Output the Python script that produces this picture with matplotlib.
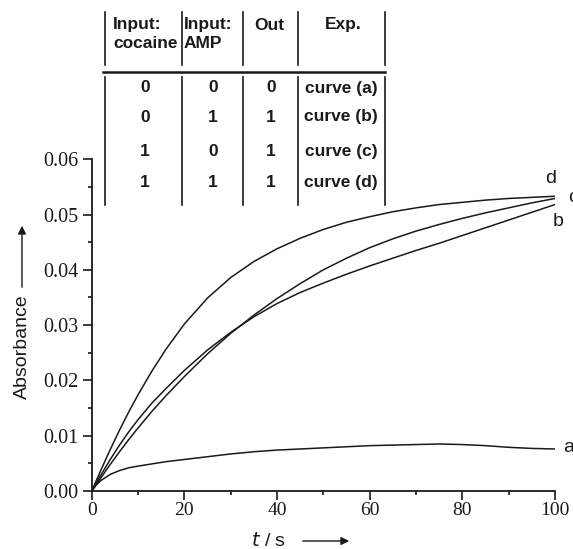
import matplotlib
matplotlib.use("Agg")
import matplotlib.pyplot as plt
from matplotlib.ticker import MultipleLocator, FormatStrFormatter

# ---- data ----
t = [0, 1, 2, 4, 6, 8, 10, 13, 16, 20, 25, 30, 35, 40, 45, 50, 55, 60, 65, 70, 75, 80, 85, 90, 95, 100]
curve_a = [0, 0.0011, 0.0019, 0.0030, 0.0037, 0.0042, 0.0045, 0.0049, 0.0053, 0.0057, 0.0062, 0.0067, 0.0071,
           0.0074, 0.0076, 0.0078, 0.0080, 0.0082, 0.0083, 0.0084, 0.0085, 0.0084, 0.0082, 0.0079, 0.0077, 0.0076]
curve_b = [0, 0.0015, 0.0029, 0.0057, 0.0083, 0.0107, 0.0129, 0.0159, 0.0185, 0.0218, 0.0255, 0.0287, 0.0315,
           0.0339, 0.0359, 0.0376, 0.0392, 0.0407, 0.0421, 0.0435, 0.0448, 0.0462, 0.0476, 0.0490, 0.0504, 0.0518]
curve_c = [0, 0.0012, 0.0024, 0.0048, 0.0071, 0.0093, 0.0114, 0.0144, 0.0172, 0.0207, 0.0248, 0.0285, 0.0318,
           0.0348, 0.0375, 0.0400, 0.0421, 0.0440, 0.0456, 0.0470, 0.0482, 0.0493, 0.0503, 0.0512, 0.0521, 0.0529]
curve_d = [0, 0.0019, 0.0038, 0.0075, 0.0110, 0.0143, 0.0174, 0.0217, 0.0256, 0.0302, 0.0349, 0.0386, 0.0415,
           0.0438, 0.0457, 0.0473, 0.0486, 0.0496, 0.0505, 0.0512, 0.0518, 0.0522, 0.0526, 0.0529, 0.0531, 0.0533]
curve_names = ["a", "b", "c", "d"]

headers = [["Input:", "cocaine"], ["Input:", "AMP"], ["Out"], ["Exp."]]
input_cocaine = [0, 0, 1, 1]
input_amp = [0, 1, 0, 1]
output = [0, 1, 1, 1]
experiment = ["curve (a)", "curve (b)", "curve (c)", "curve (d)"]

# ---- figure ----
W, H = 573, 549
fig = plt.figure(figsize=(W / 100, H / 100), dpi=100)
SERIF = "Liberation Serif"
SANS = "Liberation Sans"
INK = "#1a1a1a"

def fx(px):
    return px / W

def fy(py):
    return 1 - py / H

ax = fig.add_axes([fx(91.7), fy(491), fx(555) - fx(91.7), fy(159.2) - fy(491)])
for y in (curve_a, curve_b, curve_c, curve_d):
    ax.plot(t, y, color=INK, lw=1.1)

ax.set_xlim(0, 100)
ax.set_ylim(0, 0.06)
ax.spines["top"].set_visible(False)
ax.spines["right"].set_visible(False)
for s in ("left", "bottom"):
    ax.spines[s].set_linewidth(1.3)
    ax.spines[s].set_color(INK)
ax.xaxis.set_major_locator(MultipleLocator(20))
ax.xaxis.set_minor_locator(MultipleLocator(10))
ax.yaxis.set_major_locator(MultipleLocator(0.01))
ax.yaxis.set_minor_locator(MultipleLocator(0.005))
ax.yaxis.set_major_formatter(FormatStrFormatter("%.2f"))
ax.tick_params(which="major", length=6.8, width=1.2, direction="out", color=INK)
ax.tick_params(which="minor", length=3.2, width=1.2, direction="out", color=INK)
ax.tick_params(axis="y", pad=3)
ax.tick_params(axis="x", pad=1)
for lab in ax.get_xticklabels():
    lab.set_fontfamily(SERIF)
    lab.set_fontsize(14)
    lab.set_color(INK)
for lab in ax.get_yticklabels():
    lab.set_fontfamily(SERIF)
    lab.set_fontsize(14.5)
    lab.set_color(INK)

# curve labels
lab_pos = {"d": (545, 178), "c": (568, 197), "b": (553, 221), "a": (563, 448)}
for name in curve_names:
    px, py = lab_pos[name]
    fig.text(fx(px), fy(py), name, family=SANS, fontsize=14, ha="left", va="center", color=INK)

# axis labels with arrows
fig.text(fx(22), fy(347), "Absorbance", family=SANS, fontsize=14, rotation=90, ha="center", va="center",
         color=INK)
fig.add_artist(matplotlib.patches.FancyArrowPatch((fx(22), fy(290)), (fx(22), fy(223)),
                                                  transform=fig.transFigure, arrowstyle="-|>",
                                                  mutation_scale=12, lw=1.0, color=INK))
fig.text(fx(269), fy(541), r"$\it{t}$ / s", family=SANS, fontsize=14, ha="center", va="center",
         color=INK)
fig.add_artist(matplotlib.patches.FancyArrowPatch((fx(300), fy(541)), (fx(352), fy(541)),
                                                  transform=fig.transFigure, arrowstyle="-|>",
                                                  mutation_scale=12, lw=1.0, color=INK))

# ---- truth table ----
vx = [105, 182, 243, 298, 385]
for x in vx:
    fig.add_artist(plt.Line2D([fx(x), fx(x)], [fy(12), fy(65)], transform=fig.transFigure,
                              color=INK, lw=1.2))
    fig.add_artist(plt.Line2D([fx(x), fx(x)], [fy(77), fy(205)], transform=fig.transFigure,
                              color=INK, lw=1.2))
fig.add_artist(plt.Line2D([fx(103), fx(385)], [fy(72), fy(72)], transform=fig.transFigure,
                          color=INK, lw=1.8))

TF = dict(family=SANS, fontsize=12.5, fontweight="bold", color=INK, va="center")
hx = [(113, "left"), (184, "left"), (269, "center"), (343, "center")]
for (x, ha), lines in zip(hx, headers):
    for i, line in enumerate(lines):
        fig.text(fx(x), fy(25 + 19 * i), line, ha=ha, **TF)

row_y = [88, 117, 152, 183]
col_x = [145, 213, 271, 341]
for i, ry in enumerate(row_y):
    vals = [str(input_cocaine[i]), str(input_amp[i]), str(output[i]), experiment[i]]
    for cx, v in zip(col_x, vals):
        fig.text(fx(cx), fy(ry), v, ha="center", **TF)

fig.savefig("out.png", dpi=100)
